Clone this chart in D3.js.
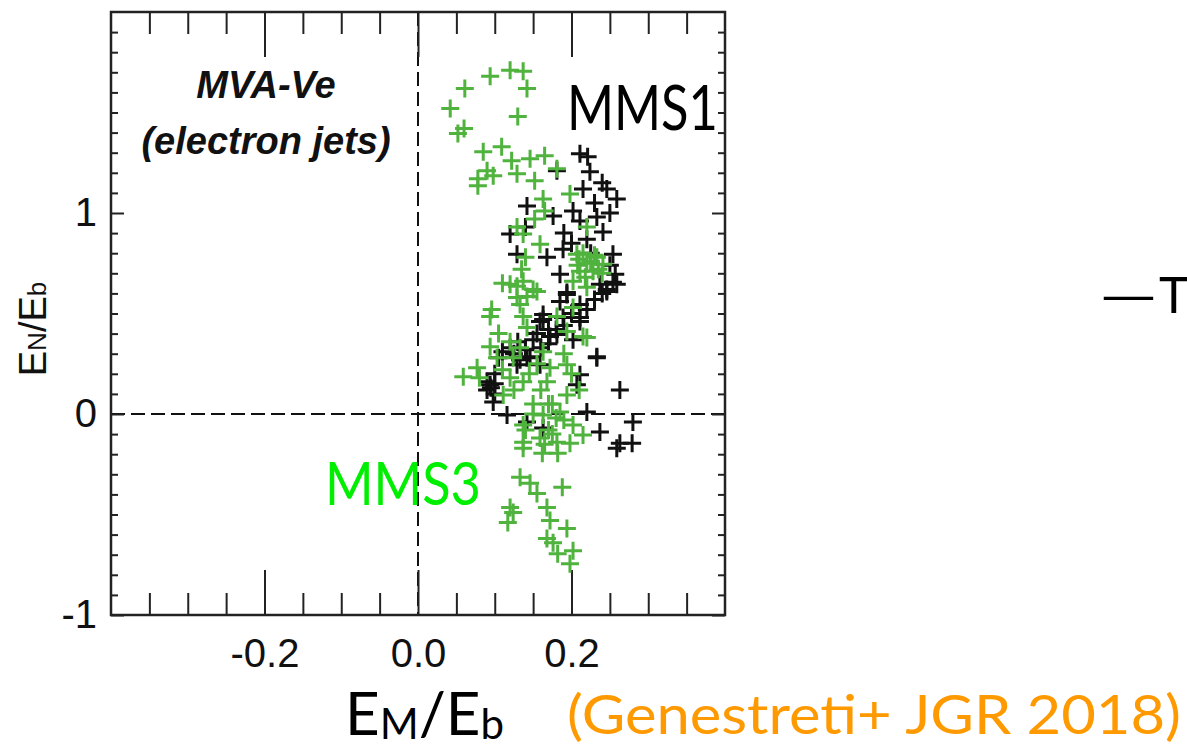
<!DOCTYPE html>
<html>
    <head>
        <meta charset="utf-8">
        <title></title>
        <style media="screen">
            body { margin: 0; background: #fff; }
            svg text { font-family: "Liberation Sans", Arial, sans-serif; }
            svg .frame { fill: none; stroke: #222; stroke-width: 2.5; }
            svg .tick line { stroke: #222; stroke-width: 2; }
            svg .zero { stroke: #111; stroke-width: 2; stroke-dasharray: 14,6; }
            svg .mms1 { stroke: #111; stroke-width: 3; fill: none; }
            svg .mms3 { stroke: #4fb33e; stroke-width: 3; fill: none; }
            svg .gill { font-family: Lato, "Open Sans", sans-serif; }
        </style>
    </head>
    <body>
        <svg class='drawing'></svg>

        <script src="https://d3js.org/d3.v7.min.js" charset="utf-8"></script>
        <script>
            var w = 1187;
            var h = 747;

            // tick values
            var xMajor = [-0.2, 0.0, 0.2];
            var xMinor = [-0.35, -0.3, -0.25, -0.15, -0.1, -0.05, 0.05, 0.1, 0.15, 0.25, 0.3, 0.35];
            var yMajor = [-1, 0, 1];
            var yMinor = [-0.9, -0.8, -0.7, -0.6, -0.5, -0.4, -0.3, -0.2, -0.1,
                          0.1, 0.2, 0.3, 0.4, 0.5, 0.6, 0.7, 0.8, 0.9,
                          1.1, 1.2, 1.3, 1.4, 1.5, 1.6, 1.7, 1.8, 1.9];

            // MMS1 (black) [E_M/E_b, E_N/E_b]
            var mms1 = [
                [0.211, 1.295], [0.221, 1.28], [0.181, 1.21], [0.224, 1.205],
                [0.142, 1.035], [0.176, 0.985], [0.202, 1.01], [0.215, 1.12], [0.246, 1.12],
                [0.259, 1.07], [0.211, 0.96], [0.233, 0.98], [0.241, 0.905], [0.120, 0.895],
                [0.129, 0.795], [0.168, 0.78], [0.189, 0.82], [0.254, 0.795], [0.185, 0.695],
                [0.257, 0.695], [0.259, 0.645], [0.246, 0.61], [0.194, 0.595], [0.185, 0.56],
                [0.163, 0.495], [0.211, 0.545], [0.237, 0.645],
                [0.159, 0.46], [0.189, 0.48], [0.211, 0.46], [0.233, 0.28], [0.142, 0.28],
                [0.159, 0.245], [0.129, 0.245], [0.094, 0.145], [0.098, 0.06], [0.211, 0.195],
                [0.207, 0.145], [0.263, 0.12], [0.116, -0.005], [0.142, -0.04], [0.220, 0.01],
                [0.237, -0.09], [0.280, -0.04], [0.263, -0.145], [0.279, -0.145], [0.163, -0.07],
                [0.181, 0.395], [0.194, 0.605], [0.163, 0.47], [0.146, 0.285], [0.133, 0.27],
                [0.172, 0.385], [0.211, 0.48], [0.233, 0.285], [0.202, 0.37], [0.254, 0.655],
                [0.246, 0.62], [0.259, -0.17], [0.15, 0.37], [0.16, 0.33], [0.17, 0.35],
                [0.14, 0.32], [0.12, 0.33], [0.11, 0.31], [0.10, 0.15], [0.09, 0.12], [0.10, 0.2],
                [0.18, 0.42], [0.19, 0.44], [0.20, 0.50], [0.22, 0.52], [0.23, 0.57], [0.24, 0.60],
                [0.17, 0.42], [0.155, 0.40], [0.125, 0.30], [0.105, 0.28], [0.13, 0.36],
                [0.09, 0.16], [0.095, 0.13], [0.10, 0.10], [0.23, 1.05], [0.25, 1.00],
                [0.24, 1.15], [0.19, 0.90], [0.20, 0.85], [0.22, 0.87], [0.225, 0.80],
                [0.25, 0.74], [0.14, 0.93]
            ];

            // MMS3 (green)
            var mms3 = [
                [0.042, 1.52], [0.061, 1.62], [0.094, 1.68], [0.120, 1.71], [0.137, 1.705],
                [0.142, 1.62], [0.130, 1.48], [0.052, 1.395], [0.085, 1.305], [0.109, 1.33],
                [0.122, 1.26], [0.146, 1.27], [0.165, 1.285], [0.129, 1.195], [0.090, 1.21],
                [0.078, 1.17], [0.098, 1.185], [0.181, 1.22], [0.152, 1.16],
                [0.078, 1.135], [0.163, 1.07], [0.198, 1.095], [0.165, 1.01], [0.129, 0.93],
                [0.137, 0.895], [0.152, 0.97], [0.159, 0.845], [0.220, 0.93], [0.207, 0.795],
                [0.233, 0.78], [0.241, 0.745], [0.211, 0.71], [0.228, 0.71], [0.202, 0.66],
                [0.120, 0.645], [0.137, 0.66], [0.155, 0.61], [0.129, 0.58], [0.133, 0.545],
                [0.096, 0.52], [0.202, 0.53], [0.220, 0.63],
                [0.094, 0.485], [0.137, 0.485], [0.142, 0.43], [0.094, 0.335], [0.103, 0.28],
                [0.133, 0.33], [0.163, 0.31], [0.194, 0.41], [0.220, 0.38], [0.059, 0.185],
                [0.077, 0.23], [0.111, 0.095], [0.137, 0.16], [0.168, 0.16], [0.194, 0.245],
                [0.194, 0.095], [0.137, -0.055], [0.163, -0.005], [0.185, 0.01], [0.202, -0.055],
                [0.215, -0.105], [0.137, -0.14], [0.159, -0.12], [0.181, -0.14], [0.124, 0.28],
                [0.172, 0.23], [0.129, 0.635], [0.142, 0.585], [0.150, 0.62], [0.181, 0.485],
                [0.215, 0.385], [0.215, 0.80], [0.225, 0.76], [0.218, 0.68], [0.235, 0.72],
                [0.208, 0.74], [0.175, 0.05], [0.19, -0.03], [0.15, 0.05], [0.16, 0.12], [0.17, -0.08],
                [0.137, -0.17], [0.162, -0.195], [0.182, -0.195], [0.198, -0.145], [0.133, -0.315],
                [0.146, -0.345], [0.155, -0.395], [0.188, -0.365], [0.120, -0.465], [0.124, -0.49],
                [0.117, -0.54], [0.168, -0.465], [0.172, -0.53], [0.194, -0.57], [0.168, -0.62],
                [0.176, -0.64], [0.182, -0.695], [0.202, -0.68], [0.198, -0.745],
                [0.11, 0.22], [0.12, 0.18], [0.125, 0.12], [0.145, 0.20], [0.155, 0.25],
                [0.15, 0.00], [0.17, 0.05], [0.18, -0.02], [0.14, -0.08], [0.165, -0.15],
                [0.175, -0.10], [0.12, 0.36], [0.105, 0.40], [0.08, 0.18], [0.19, 0.30],
                [0.20, 0.20], [0.21, 0.12], [0.22, 0.75], [0.23, 0.79], [0.21, 0.77],
                [0.24, 0.70], [0.135, 0.72], [0.14, 0.78], [0.11, 0.65], [0.06, 1.42]
            ];

            var pLeft = 111, pRight = 725, pTop = 12, pBottom = 615;
            var x = d3.scaleLinear().domain([-0.4, 0.4]).range([pLeft, pRight]);
            var y = d3.scaleLinear().domain([-1, 2]).range([pBottom, pTop]);

            var svg = d3.select('.drawing')
                .attr('width', w)
                .attr('height', h);

            // zero lines
            svg.append('line').attr('class', 'zero')
                .attr('x1', x(0)).attr('x2', x(0)).attr('y1', pTop).attr('y2', pBottom);
            svg.append('line').attr('class', 'zero')
                .attr('x1', pLeft).attr('x2', pRight).attr('y1', y(0)).attr('y2', y(0));

            // axes (ticks point inward)
            function axis(gen, vals, size, fmt, pad, tx, ty) {
                var g = svg.append('g')
                    .attr('transform', 'translate(' + tx + ',' + ty + ')')
                    .call(gen.tickValues(vals).tickSize(-size).tickPadding(pad)
                        .tickFormat(fmt || ''));
                g.select('.domain').remove();
                g.attr('font-family', null).attr('font-size', 40);
                return g;
            }
            var fx = d => d.toFixed(1);
            var fy = d => String(d);
            axis(d3.axisBottom(x), xMinor, 22, null, 0, 0, pBottom);
            axis(d3.axisBottom(x), xMajor, 45, fx, 24, 0, pBottom)
                .selectAll('text').attr('fill', '#111');
            axis(d3.axisTop(x), xMinor, 22, null, 0, 0, pTop);
            axis(d3.axisTop(x), xMajor, 45, null, 0, 0, pTop);
            axis(d3.axisLeft(y), yMinor, 7, null, 0, pLeft, 0);
            axis(d3.axisLeft(y), yMajor, 13, fy, 14, pLeft, 0)
                .selectAll('text').attr('fill', '#111');
            axis(d3.axisRight(y), yMinor, 7, null, 0, pRight, 0);
            axis(d3.axisRight(y), yMajor, 13, null, 0, pRight, 0);

            svg.append('rect').attr('class', 'frame')
                .attr('x', pLeft).attr('y', pTop)
                .attr('width', pRight - pLeft).attr('height', pBottom - pTop);

            // crosses
            var arm = 9;
            function plus(d) {
                var cx = x(d[0]), cy = y(d[1]);
                return 'M' + (cx - arm) + ',' + cy + 'H' + (cx + arm) +
                    'M' + cx + ',' + (cy - arm) + 'V' + (cy + arm);
            }
            svg.append('g').selectAll('path').data(mms1).enter()
                .append('path').attr('class', 'mms1').attr('d', plus);
            svg.append('g').selectAll('path').data(mms3).enter()
                .append('path').attr('class', 'mms3').attr('d', plus);

            // panel labels
            var lab = svg.append('text')
                .attr('text-anchor', 'middle')
                .attr('font-size', 38)
                .attr('font-weight', 'bold')
                .attr('font-style', 'italic')
                .attr('fill', '#111');
            lab.append('tspan').attr('x', 266).attr('y', 98).text('MVA-Ve');
            lab.append('tspan').attr('x', 266).attr('y', 154).text('(electron jets)');

            svg.append('text').attr('class', 'gill')
                .attr('x', 567).attr('y', 130)
                .attr('font-size', 62)
                .attr('textLength', 151).attr('lengthAdjust', 'spacingAndGlyphs')
                .attr('fill', '#000')
                .text('MMS1');
            svg.append('text').attr('class', 'gill')
                .attr('x', 325).attr('y', 505)
                .attr('font-size', 60)
                .attr('textLength', 156).attr('lengthAdjust', 'spacingAndGlyphs')
                .attr('fill', '#00ee00')
                .text('MMS3');

            // y title
            var yt = svg.append('text')
                .attr('transform', 'translate(46,329) rotate(-90)')
                .attr('text-anchor', 'middle')
                .attr('font-size', 38)
                .attr('fill', '#111');
            yt.append('tspan').text('E');
            yt.append('tspan').attr('font-size', 26).text('N');
            yt.append('tspan').text('/E');
            yt.append('tspan').attr('font-size', 26).text('b');

            // x title
            var xt = svg.append('text').attr('class', 'gill')
                .attr('x', 345).attr('y', 735)
                .attr('font-size', 60)
                .attr('fill', '#000');
            xt.append('tspan').text('E');
            xt.append('tspan').attr('font-size', 42).attr('dy', 4).text('M');
            xt.append('tspan').attr('dy', -4).text('/E');
            xt.append('tspan').attr('font-size', 42).attr('dy', 4).text('b');

            svg.append('text').attr('class', 'gill')
                .attr('x', 567).attr('y', 734)
                .attr('font-size', 54)
                .attr('textLength', 614).attr('lengthAdjust', 'spacingAndGlyphs')
                .attr('fill', '#ff9900')
                .text('(Genestreti+ JGR 2018)');

            // partial "—T" at the right edge
            svg.append('text').attr('class', 'gill')
                .attr('x', 1099).attr('y', 313)
                .attr('font-size', 50)
                .attr('textLength', 59).attr('lengthAdjust', 'spacingAndGlyphs')
                .attr('fill', '#000')
                .text('\u2014');
            svg.append('text').attr('class', 'gill')
                .attr('x', 1159).attr('y', 313)
                .attr('font-size', 50)
                .attr('fill', '#000')
                .text('T');
        </script>
    </body>
</html>
